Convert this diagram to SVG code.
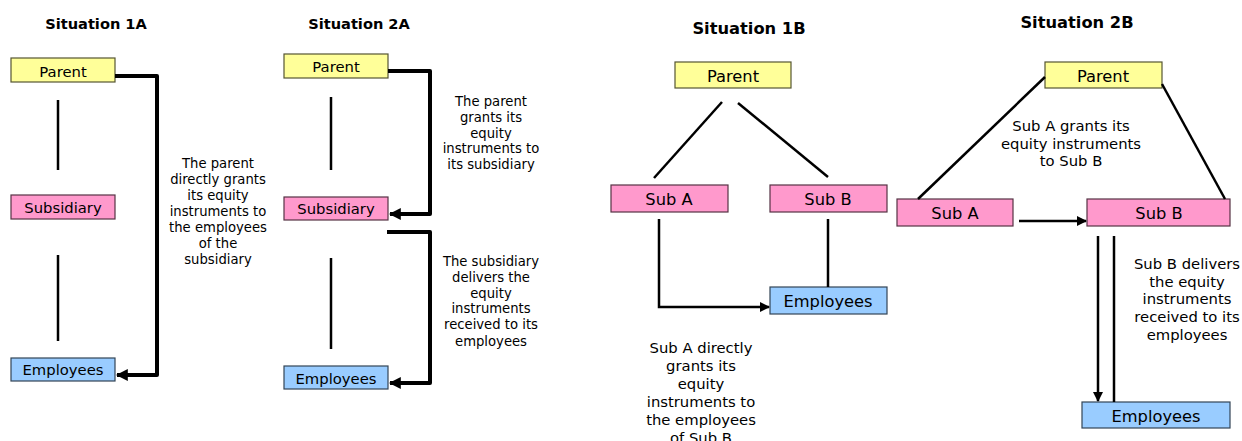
<svg xmlns="http://www.w3.org/2000/svg" width="1242" height="441" viewBox="0 0 1242 441">
<style>
text{font-family:"DejaVu Sans","Liberation Sans",sans-serif;fill:#000;text-anchor:middle}
.t{font-weight:bold}
.note{fill:#222}
.par{fill:#FFFF99;stroke:#555533;stroke-width:1.2}
.sub{fill:#FF99CC;stroke:#553344;stroke-width:1.2}
.emp{fill:#99CCFF;stroke:#334455;stroke-width:1.2}
.ln{stroke:#000;stroke-width:2.5;fill:none}
.thick{stroke:#000;stroke-width:4;fill:none;stroke-linejoin:round}
</style>
<defs>
<marker id="ah" viewBox="0 0 10 10" refX="9" refY="5" markerWidth="3" markerHeight="3" orient="auto" markerUnits="strokeWidth">
<path d="M0,0 L10,5 L0,10 z" fill="#000"/>
</marker>
<marker id="as" viewBox="0 0 10 10" refX="9" refY="5" markerWidth="4" markerHeight="4" orient="auto" markerUnits="strokeWidth">
<path d="M0,0 L10,5 L0,10 z" fill="#000"/>
</marker>
</defs>

<!-- Titles -->
<g id="titles">
<text class="t" x="96" y="29" font-size="14.6">Situation 1A</text>
<text class="t" x="359" y="29" font-size="14.6">Situation 2A</text>
<text class="t" x="749" y="34" font-size="16.3">Situation 1B</text>
<text class="t" x="1077" y="28" font-size="16.3">Situation 2B</text>
</g>

<!-- Situation 1A -->
<g id="s1a-parent"><rect class="par" x="11" y="58" width="104" height="24"/><text x="63" y="77" font-size="14.8">Parent</text></g>
<g id="s1a-subsidiary"><rect class="sub" x="11" y="195" width="104" height="24"/><text x="63" y="213" font-size="14.8">Subsidiary</text></g>
<g id="s1a-employees"><rect class="emp" x="11" y="358" width="104" height="23"/><text x="63" y="375" font-size="14.8">Employees</text></g>
<g id="s1a-note" class="note" font-size="13.2">
<text x="218" y="168">The parent</text>
<text x="218" y="184">directly grants</text>
<text x="218" y="200">its equity</text>
<text x="218" y="216">instruments to</text>
<text x="218" y="232">the employees</text>
<text x="218" y="248">of the</text>
<text x="218" y="264">subsidiary</text>
</g>

<!-- Situation 2A -->
<g id="s2a-parent"><rect class="par" x="284" y="54" width="104" height="24"/><text x="336" y="72" font-size="14.8">Parent</text></g>
<g id="s2a-subsidiary"><rect class="sub" x="284" y="197" width="104" height="23"/><text x="336" y="214" font-size="14.8">Subsidiary</text></g>
<g id="s2a-employees"><rect class="emp" x="284" y="366" width="104" height="23"/><text x="336" y="384" font-size="14.8">Employees</text></g>
<g id="s2a-note1" class="note" font-size="13.2">
<text x="491" y="106">The parent</text>
<text x="491" y="122">grants its</text>
<text x="491" y="138">equity</text>
<text x="491" y="153">instruments to</text>
<text x="491" y="169">its subsidiary</text>
</g>
<g id="s2a-note2" class="note" font-size="13.2">
<text x="491" y="266">The subsidiary</text>
<text x="491" y="282">delivers the</text>
<text x="491" y="298">equity</text>
<text x="491" y="313">instruments</text>
<text x="491" y="329">received to its</text>
<text x="491" y="346">employees</text>
</g>

<!-- Situation 1B -->
<g id="s1b-parent"><rect class="par" x="675" y="62" width="116" height="26"/><text x="733" y="82" font-size="16.3">Parent</text></g>
<g id="s1b-suba"><rect class="sub" x="611" y="185" width="117" height="27"/><text x="669" y="205" font-size="16.3">Sub A</text></g>
<g id="s1b-subb"><rect class="sub" x="770" y="185" width="117" height="27"/><text x="828" y="205" font-size="16.3">Sub B</text></g>
<g id="s1b-employees"><rect class="emp" x="770" y="287" width="117" height="27"/><text x="828" y="307" font-size="16.3">Employees</text></g>
<g id="s1b-note" class="note" font-size="14.8">
<text x="701" y="353">Sub A directly</text>
<text x="701" y="371">grants its</text>
<text x="701" y="389">equity</text>
<text x="701" y="407">instruments to</text>
<text x="701" y="425">the employees</text>
<text x="701" y="443">of Sub B</text>
</g>

<!-- Situation 2B -->
<g id="s2b-parent"><rect class="par" x="1045" y="62" width="117" height="26"/><text x="1103" y="82" font-size="16.3">Parent</text></g>
<g id="s2b-suba"><rect class="sub" x="897" y="199" width="116" height="27"/><text x="955" y="219" font-size="16.3">Sub A</text></g>
<g id="s2b-subb"><rect class="sub" x="1087" y="199" width="143" height="27"/><text x="1159" y="219" font-size="16.3">Sub B</text></g>
<g id="s2b-employees"><rect class="emp" x="1082" y="402" width="148" height="26"/><text x="1156" y="422" font-size="16.3">Employees</text></g>
<g id="s2b-note1" class="note" font-size="14.8">
<text x="1071" y="131">Sub A grants its</text>
<text x="1071" y="149">equity instruments</text>
<text x="1071" y="166">to Sub B</text>
</g>
<g id="s2b-note2" class="note" font-size="14.8">
<text x="1187" y="269">Sub B delivers</text>
<text x="1187" y="287">the equity</text>
<text x="1187" y="304">instruments</text>
<text x="1187" y="322">received to its</text>
<text x="1187" y="340">employees</text>
</g>

<!-- Connectors -->
<g id="connectors">
<!-- 1A -->
<line class="ln" x1="58" y1="100" x2="58" y2="170"/>
<line class="ln" x1="58" y1="255" x2="58" y2="341"/>
<path class="thick" d="M115,76 H157 V375 H117" marker-end="url(#ah)"/>
<!-- 2A -->
<line class="ln" x1="331" y1="97" x2="331" y2="170"/>
<line class="ln" x1="331" y1="258" x2="331" y2="349"/>
<path class="thick" d="M388,71 H430 V214 H390" marker-end="url(#ah)"/>
<path class="thick" d="M387,232 H430 V383 H390" marker-end="url(#ah)"/>
<!-- 1B -->
<line class="ln" x1="722" y1="102" x2="654" y2="178"/>
<line class="ln" x1="738" y1="103" x2="828" y2="177"/>
<path class="ln" d="M659,219 V307 H769" marker-end="url(#as)"/>
<line class="ln" x1="828" y1="219" x2="828" y2="287"/>
<!-- 2B -->
<line class="ln" x1="1045" y1="77" x2="918" y2="199"/>
<line class="ln" x1="1162" y1="84" x2="1225" y2="199"/>
<line class="ln" x1="1019" y1="221" x2="1086" y2="221" marker-end="url(#as)"/>
<line class="ln" x1="1098" y1="236" x2="1098" y2="401" marker-end="url(#as)"/>
<line class="ln" x1="1114" y1="236" x2="1114" y2="402"/>
</g>
</svg>
